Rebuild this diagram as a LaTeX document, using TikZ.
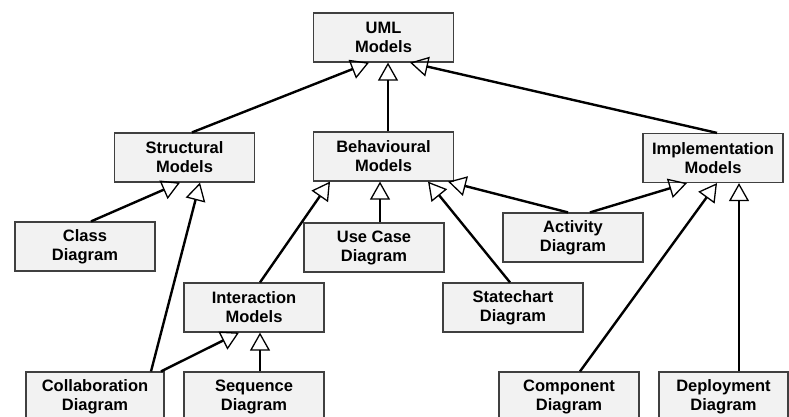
\documentclass[tikz,border=0pt]{standalone}
\usepackage{fontspec}
\setmainfont{Liberation Sans}
\usetikzlibrary{arrows.meta}
\definecolor{boxfill}{HTML}{F2F2F2}
\definecolor{boxline}{HTML}{404040}
\begin{document}
\begin{tikzpicture}[
        x = 1pt, y = -1pt,
        > = {Triangle[open, length = 18pt, width = 20pt, line width = 1.3pt]},
        umlbox/.style = {draw = boxline, fill = boxfill, line width = 1.2pt,
            minimum width = 140pt, minimum height = 49pt, inner sep = 0pt,
            align = center, font = \fontsize{16.5}{19}\selectfont\bfseries},
        gen/.style = {->, line width = 2.4pt}
    ]
        \useasboundingbox (0,0) rectangle (789,416);
        \node[umlbox] (uml) at (383.5,37.5) {UML\\Models};
        \node[umlbox] (struct) at (184.5,157.5) {Structural\\Models};
        \node[umlbox] (behav) at (383.5,156.5) {Behavioural\\Models};
        \node[umlbox] (impl) at (713,158) {Implementation\\Models};
        \node[umlbox] (cls) at (85,246.5) {Class\\Diagram};
        \node[umlbox] (usecase) at (374,247.5) {Use Case\\Diagram};
        \node[umlbox] (activity) at (573,237.5) {Activity\\Diagram};
        \node[umlbox] (interact) at (254,307.5) {Interaction\\Models};
        \node[umlbox] (state) at (513,307.5) {Statechart\\Diagram};
        \node[umlbox, minimum width = 138pt] (collab) at (95,396.5) {Collaboration\\Diagram};
        \node[umlbox] (seq) at (254,396.5) {Sequence\\Diagram};
        \node[umlbox] (comp) at (569,396.5) {Component\\Diagram};
        \node[umlbox, minimum width = 129pt] (deploy) at (723.5,396.5) {Deployment\\Diagram};
        \draw[gen] ([xshift = 7.5pt]struct.north) -- ([xshift = -14.5pt]uml.south);
        \draw[gen] ([xshift = 4.5pt]behav.north) -- ([xshift = 4.5pt]uml.south);
        \draw[gen] ([xshift = 4pt]impl.north) -- ([xshift = 26.5pt]uml.south);
        \draw[gen] ([xshift = 6pt]cls.north) -- ([xshift = -4.5pt]struct.south);
        \draw[gen] ([xshift = 56pt]collab.north) -- ([xshift = 15.5pt]struct.south);
        \draw[gen] ([xshift = 6pt]interact.north) -- ([xshift = -53.5pt]behav.south);
        \draw[gen] ([xshift = 6pt]usecase.north) -- ([xshift = -3.5pt]behav.south);
        \draw[gen] ([xshift = -3pt]state.north) -- ([xshift = 44.5pt]behav.south);
        \draw[gen] ([xshift = -5pt]activity.north) -- ([xshift = 64.5pt]behav.south);
        \draw[gen] ([xshift = 17pt]activity.north) -- ([xshift = -26pt]impl.south);
        \draw[gen] ([xshift = 11pt]comp.north) -- ([xshift = 4pt]impl.south);
        \draw[gen] ([xshift = 15.5pt]deploy.north) -- ([xshift = 26pt]impl.south);
        \draw[gen] ([xshift = 66pt]collab.north) -- ([xshift = -15pt]interact.south);
        \draw[gen] ([xshift = 6pt]seq.north) -- ([xshift = 6pt]interact.south);
    \end{tikzpicture}
\end{document}
